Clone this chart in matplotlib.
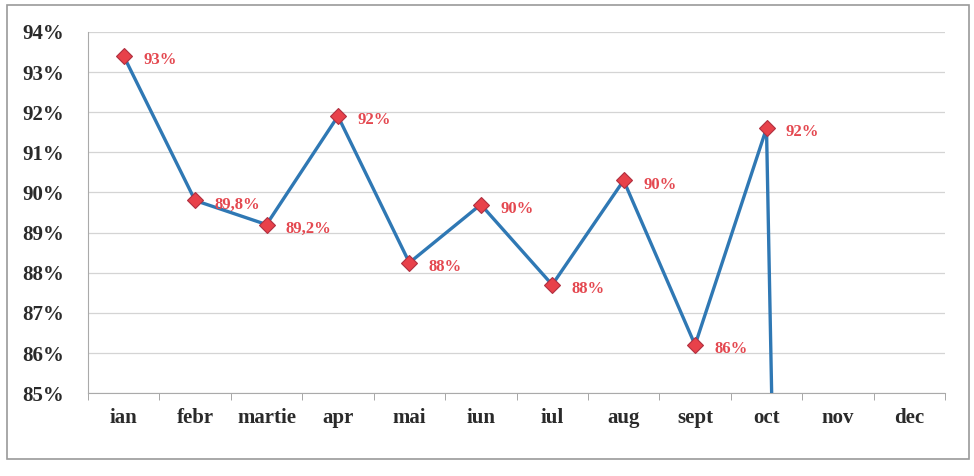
import numpy as np
import matplotlib
matplotlib.use('Agg')
import matplotlib.pyplot as plt
from matplotlib.patches import Rectangle

# Data
months = ['ian', 'febr', 'martie', 'apr', 'mai', 'iun', 'iul', 'aug',
          'sept', 'oct', 'nov', 'dec']
values = [93.4, 89.8, 89.2, 91.9, 88.25, 89.7, 87.7, 90.3, 86.2, 91.6, 0.0, np.nan]
labels = ['93%', '89,8%', '89,2%', '92%', '88%', '90%', '88%', '90%',
          '86%', '92%', '', '']
y_ticks = [85, 86, 87, 88, 89, 90, 91, 92, 93, 94]

line_color = '#2f78b4'
marker_face = '#e8414a'
label_color = '#e44850'
serif = ['Liberation Serif', 'DejaVu Serif']

fig = plt.figure(figsize=(9.74, 4.76), dpi=100)
ax = fig.add_axes([0.0903, 0.174, 0.880, 0.759])

x = np.arange(len(months))
ax.plot(x, values, color=line_color, lw=2.4, zorder=3)
ax.plot(x, values, linestyle='none', marker='D', markersize=8.5,
        markerfacecolor=marker_face, markeredgecolor='#b03040',
        markeredgewidth=0.8, zorder=4)

for xi, v, lab in zip(x, values, labels):
    if lab:
        ax.annotate(lab, (xi, v), xytext=(14, -3), textcoords='offset points',
                    ha='left', va='center', color=label_color,
                    fontsize=12, fontweight='bold', family=serif)

ax.set_xlim(-0.5, len(months) - 0.5)
ax.set_ylim(85, 94)
ax.set_yticks(y_ticks)
ax.set_yticklabels([f'{t}%' for t in y_ticks], fontsize=15,
                   fontweight='bold', family=serif, color='#2a2a2a')
ax.set_xticks(x)
ax.set_xticklabels(months, fontsize=15, fontweight='bold', family=serif,
                   color='#2a2a2a')
ax.set_xticks(np.arange(len(months) + 1) - 0.5, minor=True)
ax.tick_params(axis='x', which='major', length=0, pad=11)
ax.tick_params(axis='x', which='minor', length=5, color='#999999', direction='out')
ax.tick_params(axis='y', length=0, pad=17)

ax.grid(axis='y', color='#d4d4d4', lw=0.9)
ax.set_axisbelow(True)
for side in ['top', 'right']:
    ax.spines[side].set_visible(False)
ax.spines['left'].set_color('#aaaaaa')
ax.spines['bottom'].set_color('#aaaaaa')

# Outer frame around the whole chart
fig.patches.append(Rectangle((0.007, 0.035), 0.988, 0.955, transform=fig.transFigure,
                             fill=False, edgecolor='#9a9a9a', lw=1.2))

fig.savefig('out.png', dpi=100)
